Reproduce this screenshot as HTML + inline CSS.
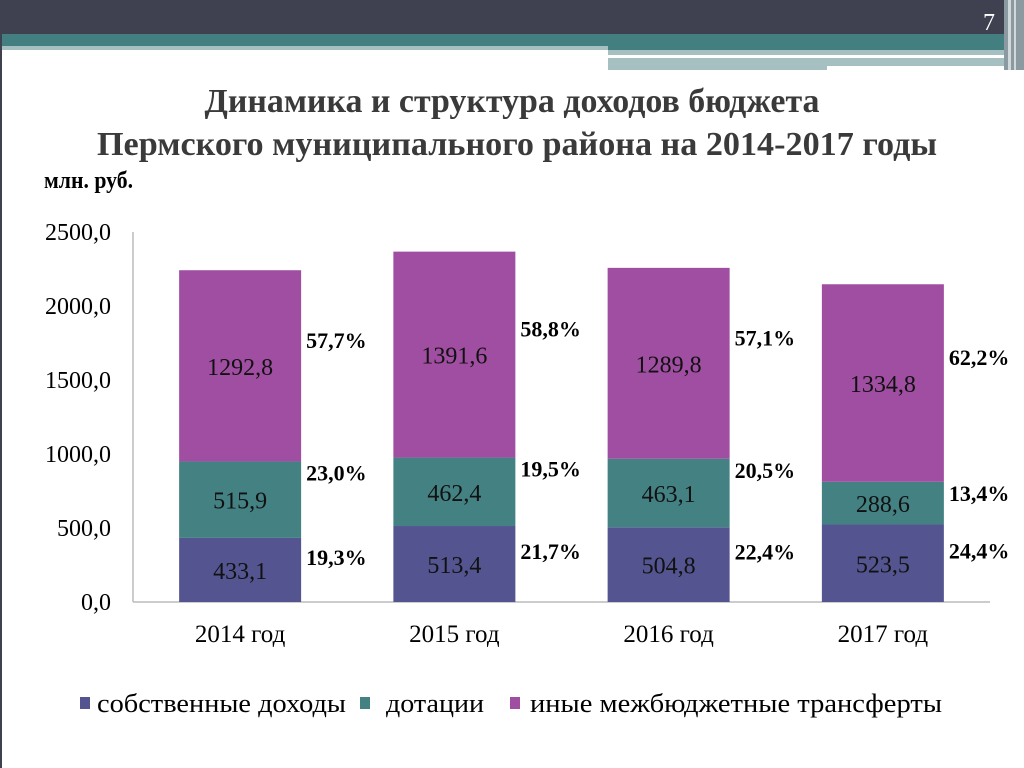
<!DOCTYPE html>
<html><head><meta charset="utf-8"><style>
body{margin:0;width:1024px;height:768px;overflow:hidden;background:#fff;font-family:"Liberation Serif",serif;}
svg{display:block}
</style></head><body>
<svg width="1024" height="768" font-family="Liberation Serif, serif">
<g>
<rect x="0" y="0" width="1024" height="34" fill="#3f4050"/>
<rect x="0" y="34" width="1004" height="12" fill="#437f80"/>
<rect x="0" y="46" width="608" height="4" fill="#a6bfc0"/>
<rect x="608" y="46" width="396" height="4" fill="#437f80"/>
<rect x="608" y="50" width="396" height="5" fill="#a6bfc0"/>
<rect x="608" y="58" width="396" height="8" fill="#a6bfc0"/>
<rect x="608" y="66" width="219" height="4" fill="#a6bfc0"/>
<rect x="1004" y="0" width="20" height="70" fill="#8a9aa0"/>
<rect x="1008" y="0" width="3" height="70" fill="#d0d8da"/>
<rect x="1014" y="0" width="2" height="70" fill="#d0d8da"/>
<rect x="0" y="0" width="2" height="768" fill="#3f4050"/>
</g>
<text x="983" y="30" font-size="24" fill="#fff">7</text>
<text x="512" y="112" font-size="34" font-weight="bold" fill="#3a3a3a" text-anchor="middle" textLength="615" lengthAdjust="spacingAndGlyphs">Динамика и структура доходов бюджета</text>
<text x="517" y="155" font-size="34" font-weight="bold" fill="#3a3a3a" text-anchor="middle" textLength="840" lengthAdjust="spacingAndGlyphs">Пермского муниципального района на 2014-2017 годы</text>
<text x="44" y="188" font-size="24" font-weight="bold" fill="#000" textLength="89" lengthAdjust="spacingAndGlyphs">млн. руб.</text>
<g id="chart"></g>
<g>
<rect x="80" y="697" width="10" height="12" fill="#545590"/>
<text x="97" y="712" font-size="26" textLength="249" lengthAdjust="spacingAndGlyphs">собственные доходы</text>
<rect x="360" y="697" width="10" height="12" fill="#448183"/>
<text x="386" y="712" font-size="26" textLength="98" lengthAdjust="spacingAndGlyphs">дотации</text>
<rect x="510" y="697" width="10" height="12" fill="#a04ea1"/>
<text x="530" y="712" font-size="26" textLength="412" lengthAdjust="spacingAndGlyphs">иные межбюджетные трансферты</text>
</g>
</svg>
<script>
const categories=["2014 год","2015 год","2016 год","2017 год"];
const ownValues=[433.1,513.4,504.8,523.5];
const subsidyValues=[515.9,462.4,463.1,288.6];
const transferValues=[1292.8,1391.6,1289.8,1334.8];
const ownPct=["19,3%","21,7%","22,4%","24,4%"];
const subsidyPct=["23,0%","19,5%","20,5%","13,4%"];
const transferPct=["57,7%","58,8%","57,1%","62,2%"];
const yTicks=[0,500,1000,1500,2000,2500];
const fmt=v=>v.toFixed(1).replace('.',',');
const NS="http://www.w3.org/2000/svg";
const g=document.getElementById('chart');
const x0=133,x1=990,yTop=232,yBot=602,yMax=2500;
const y=v=>yBot-(v/yMax)*(yBot-yTop);
const band=(x1-x0)/categories.length;
const xc=i=>x0+band*(i+0.5);
const bw=122;
function mk(tag,attrs,txt){const e=document.createElementNS(NS,tag);for(const k in attrs)e.setAttribute(k,attrs[k]);if(txt!==undefined)e.textContent=txt;g.appendChild(e);return e;}
let e;
e=mk('line',{x1:x0,y1:yTop,x2:x0,y2:yBot,stroke:'#bbb','stroke-width':1.5});


e=mk('line',{x1:x0,y1:yBot,x2:x1,y2:yBot,stroke:'#bbb','stroke-width':1.5});


yTicks.forEach(t=>{
 e=mk('text',{x:111,y:y(t)+8,'font-size':24,'text-anchor':'end'},fmt(t));
 
 
});
// label placement: 'mid' offsets from segment middle, 'top' offsets from segment top
const series=[[ownValues,'#545590',ownPct,'mid',-5,'own'],[subsidyValues,'#448183',subsidyPct,'top',19,'subsidies'],[transferValues,'#a04ea1',transferPct,'mid',-18,'transfers']];
categories.forEach((c,i)=>{
 let base=0;
 series.forEach(([vals,col,pcts,mode,off,nm])=>{
  const v=vals[i],top=y(base+v),bot=y(base);
  e=mk('rect',{x:xc(i)-bw/2,y:top,width:bw,height:bot-top,fill:col});
  
  
  e=mk('text',{x:xc(i),y:(top+bot)/2+9,'font-size':24,'text-anchor':'middle',fill:'#111'},fmt(v));
  
  
  const py=mode==='mid'?(top+bot)/2+off:top+off;
  e=mk('text',{x:xc(i)+bw/2+5,y:py,'font-size':22,'font-weight':'bold'},pcts[i]);
  
  
  base+=v;
 });
 e=mk('text',{x:xc(i),y:642,'font-size':25,'text-anchor':'middle'},c);
 
 
});
</script>
</body></html>
